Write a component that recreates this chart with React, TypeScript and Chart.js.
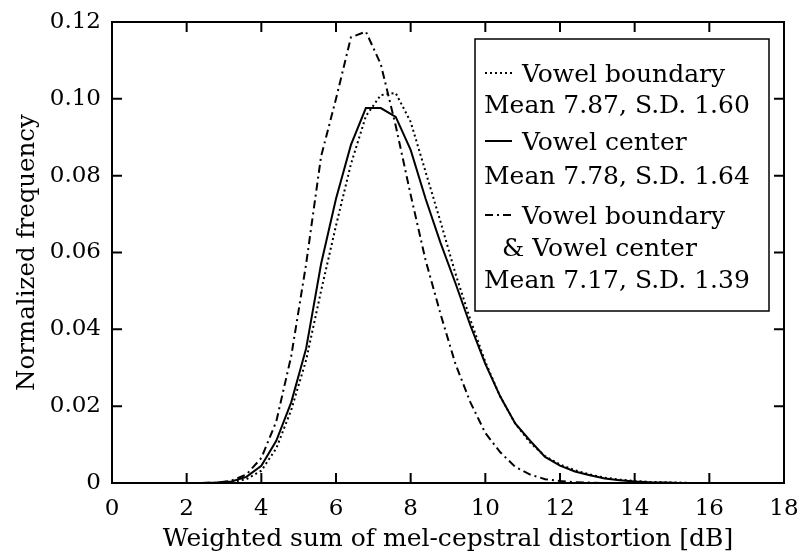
import React, { useEffect, useRef } from "react";
import { Chart, registerables } from "chart.js";

Chart.register(...registerables);

const xValues = [
  0, 0.4, 0.8, 1.2, 1.6, 2.0, 2.4, 2.8, 3.2, 3.6, 4.0, 4.4, 4.8, 5.2, 5.6, 6.0,
  6.4, 6.8, 7.2, 7.6, 8.0, 8.4, 8.8, 9.2, 9.6, 10.0, 10.4, 10.8, 11.2, 11.6,
  12.0, 12.4, 12.8, 13.2, 13.6, 14.0, 14.4, 14.8, 15.2, 15.6, 16.0, 16.4, 16.8,
  17.2, 17.6, 18.0,
];

const vowelBoundary = [
  0, 0, 0, 0, 0, 0, 0, 0, 0.0002, 0.001, 0.0032, 0.009, 0.019, 0.032, 0.05,
  0.067, 0.083, 0.0955, 0.101, 0.1015, 0.094, 0.081, 0.068, 0.0545, 0.0425,
  0.0315, 0.0225, 0.0155, 0.0105, 0.007, 0.0048, 0.0033, 0.0022, 0.0014,
  0.0009, 0.0005, 0.0003, 0.0002, 0.0001, 0, 0, 0, 0, 0, 0, 0,
];

const vowelCenter = [
  0, 0, 0, 0, 0, 0, 0, 0.0001, 0.0004, 0.0016, 0.0045, 0.011, 0.021, 0.035,
  0.057, 0.074, 0.088, 0.0976, 0.0976, 0.0953, 0.0867, 0.074, 0.0625, 0.052,
  0.041, 0.031, 0.0225, 0.0155, 0.011, 0.0068, 0.0045, 0.003, 0.002, 0.0012,
  0.0007, 0.0004, 0.0002, 0.0001, 0, 0, 0, 0, 0, 0, 0, 0,
];

const boundaryAndCenter = [
  0, 0, 0, 0, 0, 0, 0, 0.0001, 0.0006, 0.0022, 0.0065, 0.016, 0.033, 0.057,
  0.085, 0.1, 0.116, 0.1175, 0.109, 0.093, 0.075, 0.058, 0.044, 0.031, 0.021,
  0.013, 0.008, 0.0042, 0.0022, 0.001, 0.0005, 0.0002, 0.0001, 0, 0, 0, 0, 0,
  0, 0, 0, 0, 0, 0, 0, 0,
];

const legendLines = [
  "Vowel boundary",
  "Mean 7.87, S.D. 1.60",
  "Vowel center",
  "Mean 7.78, S.D. 1.64",
  "Vowel boundary",
  "& Vowel center",
  "Mean 7.17, S.D. 1.39",
];

const xTitle = "Weighted sum of mel-cepstral distortion [dB]";
const yTitle = "Normalized frequency";

const FONT = "'DejaVu Serif', serif";
const DOT = [2, 3];
const DASHDOT = [8, 4, 2, 4];

const framePlugin = {
  id: "frameAndLegend",
  afterDatasetsDraw(chart: any) {
    const { ctx, chartArea: a, scales } = chart;
    const xs = scales.x;
    const ys = scales.y;
    ctx.save();
    // frame
    ctx.strokeStyle = "#000";
    ctx.lineWidth = 2;
    ctx.setLineDash([]);
    ctx.strokeRect(a.left, a.top, a.right - a.left, a.bottom - a.top);
    const L = 10;
    ctx.beginPath();
    xs.ticks.forEach((t: any) => {
      const px = xs.getPixelForValue(t.value);
      ctx.moveTo(px, a.bottom);
      ctx.lineTo(px, a.bottom - L);
      ctx.moveTo(px, a.top);
      ctx.lineTo(px, a.top + L);
    });
    ys.ticks.forEach((t: any) => {
      const py = ys.getPixelForValue(t.value);
      ctx.moveTo(a.left, py);
      ctx.lineTo(a.left + L, py);
      ctx.moveTo(a.right, py);
      ctx.lineTo(a.right - L, py);
    });
    ctx.stroke();

    // legend
    const lx = a.left + 363;
    const ly = a.top + 17;
    const lw = 294;
    const lh = 272;
    ctx.fillStyle = "#fff";
    ctx.fillRect(lx, ly, lw, lh);
    ctx.lineWidth = 1.5;
    ctx.strokeStyle = "#000";
    ctx.strokeRect(lx, ly, lw, lh);

    ctx.fillStyle = "#000";
    ctx.font = `25px ${FONT}`;
    ctx.textBaseline = "middle";
    ctx.textAlign = "left";
    const rows = [
      { text: legendLines[0], dy: 36, dx: 47, dash: DOT },
      { text: legendLines[1], dy: 67, dx: 9 },
      { text: legendLines[2], dy: 104, dx: 47, dash: [] as number[] },
      { text: legendLines[3], dy: 138, dx: 9 },
      { text: legendLines[4], dy: 178, dx: 47, dash: DASHDOT },
      { text: legendLines[5], dy: 210, dx: 27 },
      { text: legendLines[6], dy: 242, dx: 9 },
    ];
    rows.forEach((r: any) => {
      ctx.fillText(r.text, lx + r.dx, ly + r.dy);
      if (r.dash) {
        ctx.beginPath();
        ctx.lineWidth = 2;
        ctx.setLineDash(r.dash);
        ctx.moveTo(lx + 10, ly + r.dy - 2);
        ctx.lineTo(lx + 37, ly + r.dy - 2);
        ctx.stroke();
        ctx.setLineDash([]);
      }
    });
    ctx.restore();
  },
};

export default function App() {
  const ref = useRef<HTMLCanvasElement | null>(null);

  useEffect(() => {
    if (!ref.current) return;
    const mk = (vals: number[]) => xValues.map((x, i) => ({ x, y: vals[i] }));
    const chart = new Chart(ref.current, {
      type: "line",
      data: {
        datasets: [
          {
            label: "Vowel boundary",
            data: mk(vowelBoundary),
            borderColor: "#000",
            borderWidth: 2,
            borderDash: DOT,
            pointRadius: 0,
            tension: 0,
          },
          {
            label: "Vowel center",
            data: mk(vowelCenter),
            borderColor: "#000",
            borderWidth: 2,
            pointRadius: 0,
            tension: 0,
          },
          {
            label: "Vowel boundary & Vowel center",
            data: mk(boundaryAndCenter),
            borderColor: "#000",
            borderWidth: 2,
            borderDash: DASHDOT,
            pointRadius: 0,
            tension: 0,
          },
        ],
      },
      options: {
        responsive: false,
        animation: false,
        layout: { padding: { top: 22, right: 17, left: 0, bottom: 0 } },
        plugins: {
          legend: { display: false },
          tooltip: { enabled: false },
        },
        scales: {
          x: {
            type: "linear",
            min: 0,
            max: 18,
            grid: { display: false, drawTicks: false },
            border: { display: false },
            ticks: {
              stepSize: 2,
              padding: 12,
              color: "#000",
              font: { family: FONT, size: 23 },
            },
            title: {
              display: true,
              text: xTitle,
              color: "#000",
              font: { family: FONT, size: 25, lineHeight: 1 },
              padding: { top: 0, bottom: 7 },
            },
            afterFit: (s: any) => {
              s.height = 76;
              s.paddingLeft = 0;
              s.paddingRight = 0;
            },
          },
          y: {
            type: "linear",
            min: 0,
            max: 0.12,
            grid: { display: false, drawTicks: false },
            border: { display: false },
            ticks: {
              stepSize: 0.02,
              padding: 11,
              color: "#000",
              font: { family: FONT, size: 23 },
              callback: (v: any) => (Number(v) === 0 ? "0" : Number(v).toFixed(2)),
            },
            title: {
              display: true,
              text: yTitle,
              color: "#000",
              font: { family: FONT, size: 24.5, lineHeight: 1 },
              padding: { top: 15, bottom: 0 },
            },
            afterFit: (s: any) => {
              s.width = 112;
              s.paddingTop = 0;
              s.paddingBottom = 0;
            },
          },
        },
      },
      plugins: [framePlugin],
    });
    return () => chart.destroy();
  }, []);

  return (
    <div style={{ position: "absolute", left: 0, top: 0, width: 801, height: 559, overflow: "hidden" }}>
      <canvas ref={ref} width={801} height={559} style={{ display: "block" }} />
    </div>
  );
}
